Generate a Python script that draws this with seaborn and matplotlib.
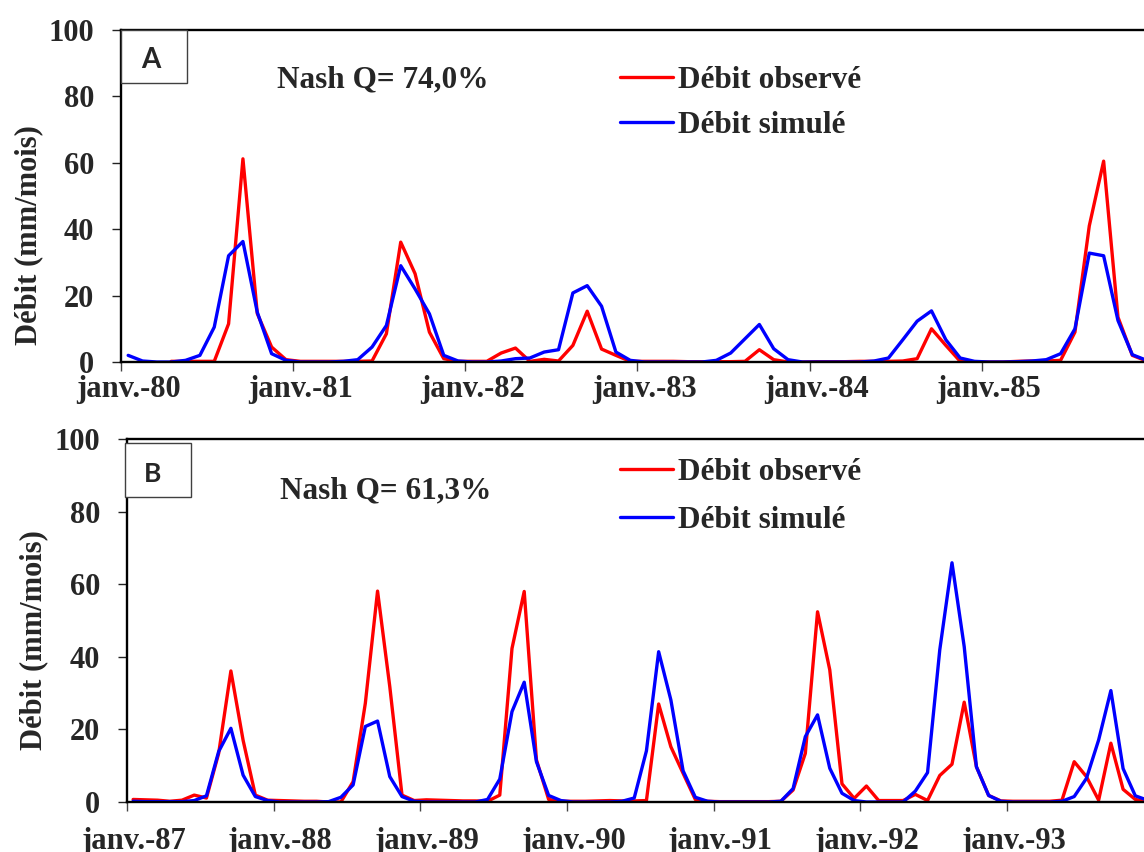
import numpy as np
import pandas as pd
import matplotlib
matplotlib.use("Agg")
import matplotlib.pyplot as plt
import matplotlib.patches as mpatches
import seaborn as sns

# ---------------- data (mm/mois, monthly) ----------------
nan = np.nan
# Panel A : janv. 1980 - déc. 1985
obs_A = [nan, nan, nan, 0.2, 0.2, 0.2, 0.2, 11.5, 61.2, 14.6, 4.5, 0.7,
         0.2, 0.2, 0.2, 0.2, 0.2, 0.3, 8.5, 36.1, 26.6, 9.0, 1.0, 0.2,
         0.2, 0.2, 2.7, 4.2, 0.2, 0.8, 0.3, 5.0, 15.3, 3.9, 2.0, 0.2,
         0.2, 0.2, 0.2, 0.1, 0.1, 0.1, 0.1, 0.2, 3.7, 0.7, 0.0, 0.0,
         0.1, 0.1, 0.1, 0.2, 0.2, 0.2, 0.3, 1.0, 10.0, 5.0, 0.2, 0.0,
         0.0, 0.0, 0.2, 0.3, 0.3, 0.5, 9.0, 41.0, 60.5, 13.5, 2.0, 0.3]
sim_A = [2.0, 0.3, 0.0, 0.0, 0.5, 2.0, 10.5, 32.0, 36.3, 15.0, 2.5, 0.5,
         0.0, 0.0, 0.0, 0.2, 0.7, 4.5, 11.0, 29.0, 22.0, 14.5, 2.0, 0.3,
         0.0, 0.0, 0.3, 1.0, 1.2, 3.0, 3.7, 20.8, 23.0, 16.8, 3.0, 0.5,
         0.0, 0.0, 0.0, 0.0, 0.0, 0.5, 2.7, 7.0, 11.3, 4.0, 0.7, 0.0,
         0.0, 0.0, 0.0, 0.0, 0.3, 1.2, 6.7, 12.3, 15.4, 6.7, 1.2, 0.2,
         0.0, 0.0, 0.1, 0.3, 0.7, 2.5, 10.0, 32.8, 32.0, 12.5, 2.2, 0.5]
# Panel B : janv. 1987 - déc. 1993
obs_B = [0.7, 0.6, 0.5, 0.2, 0.5, 1.9, 1.1, 13.4, 36.1, 17.0, 1.9, 0.5,
         0.4, 0.3, 0.2, 0.2, 0.0, 0.0, 5.6, 27.2, 58.1, 31.8, 1.9, 0.4,
         0.6, 0.5, 0.4, 0.3, 0.3, 0.2, 1.9, 42.3, 58.0, 11.6, 0.7, 0.2,
         0.2, 0.2, 0.3, 0.4, 0.3, 0.3, 0.4, 27.0, 15.2, 7.9, 0.7, 0.2,
         0.1, 0.1, 0.1, 0.1, 0.1, 0.2, 3.3, 13.4, 52.4, 36.4, 5.0, 1.0,
         4.4, 0.4, 0.4, 0.4, 2.1, 0.4, 7.3, 10.4, 27.5, 9.7, 1.8, 0.3,
         0.2, 0.2, 0.2, 0.2, 0.5, 11.1, 7.0, 0.5, 16.2, 3.5, 0.7, 0.1]
sim_B = [0.2, 0.1, 0.1, 0.1, 0.1, 0.4, 1.7, 13.9, 20.3, 7.4, 1.5, 0.4,
         0.0, 0.0, 0.0, 0.0, 0.1, 1.3, 4.7, 20.8, 22.3, 7.0, 1.5, 0.2,
         0.0, 0.0, 0.0, 0.0, 0.0, 0.7, 6.3, 24.9, 33.0, 11.1, 1.8, 0.4,
         0.0, 0.0, 0.0, 0.0, 0.2, 1.1, 14.1, 41.4, 28.1, 8.6, 1.3, 0.2,
         0.0, 0.0, 0.0, 0.0, 0.0, 0.2, 3.7, 18.0, 24.0, 9.3, 2.4, 0.4,
         0.0, 0.0, 0.0, 0.0, 3.0, 8.1, 41.9, 65.9, 42.8, 9.7, 1.8, 0.2,
         0.0, 0.0, 0.0, 0.0, 0.2, 1.5, 6.5, 17.1, 30.7, 9.2, 1.7, 0.5]

labels_A = ["janv.-80", "janv.-81", "janv.-82", "janv.-83", "janv.-84", "janv.-85"]
labels_B = ["janv.-87", "janv.-88", "janv.-89", "janv.-90", "janv.-91", "janv.-92", "janv.-93"]
series_names = ["Débit observé", "Débit simulé"]
nash_A = "Nash Q= 74,0%"
nash_B = "Nash Q= 61,3%"
y_ticks = [0, 20, 40, 60, 80, 100]

# ---------------- style ----------------
sns.set_theme(style="ticks")
SERIF = ["Liberation Serif", "DejaVu Serif"]
plt.rcParams["font.family"] = SERIF
plt.rcParams["font.weight"] = "bold"
palette = {"Débit observé": "#FF0000", "Débit simulé": "#0000FF"}

W, H = 1144, 852
fig = plt.figure(figsize=(W / 100, H / 100), dpi=100)
fig.patch.set_facecolor("white")


def long_df(obs, sim):
    n = len(obs)
    mois = np.arange(n) + 0.5
    df = pd.DataFrame({
        "mois": np.concatenate([mois, mois]),
        "débit": np.concatenate([np.array(obs, float), np.array(sim, float)]),
        "série": [series_names[0]] * n + [series_names[1]] * n,
    })
    return df.dropna()


def panel(rect_px, obs, sim, labels, nash, letter, box_px, letter_xy, letter_size,
          nash_xy, leg_xy, ylab_xy, leg_spacing, xpad):
    left, top, right, bottom = rect_px
    ax = fig.add_axes([left / W, 1 - bottom / H, (right - left) / W, (bottom - top) / H])
    df = long_df(obs, sim)
    sns.lineplot(data=df, x="mois", y="débit", hue="série", hue_order=series_names,
                 palette=palette, linewidth=2.4, estimator=None, legend=False, ax=ax)
    n = len(obs)
    ax.set_xlim(0, n)
    ax.set_ylim(0, 100)
    ax.set_xlabel("")
    ax.set_ylabel("")
    ax.set_yticks(y_ticks)
    ax.set_yticklabels([str(v) for v in y_ticks], fontsize=22, fontweight="bold")
    ax.set_xticks(np.arange(0, n + 1, 12))
    ax.set_xticklabels([""] * len(np.arange(0, n + 1, 12)))
    ax.set_xticks(np.arange(0, n, 12) + 0.5, minor=True)
    ax.set_xticklabels(labels, minor=True, fontsize=22, fontweight="bold")
    ax.tick_params(axis="x", which="major", direction="out", length=6.5, width=1.0,
                   color="#444444")
    ax.tick_params(axis="x", which="minor", length=0, pad=xpad)
    ax.tick_params(axis="y", direction="out", length=6.5, width=1.0, color="#222222", pad=13)
    for s in ["left", "top", "bottom"]:
        ax.spines[s].set_color("black")
        ax.spines[s].set_linewidth(1.7)
    ax.spines["right"].set_visible(False)
    ax.grid(False)

    # legend
    lines = ax.get_lines()[:2]
    ax.legend(lines, series_names, loc="upper left",
              bbox_to_anchor=(leg_xy[0] / W, 1 - leg_xy[1] / H),
              bbox_transform=fig.transFigure, frameon=False, borderpad=0,
              borderaxespad=0, handlelength=1.7, handletextpad=0.16,
              labelspacing=leg_spacing,
              prop={"family": SERIF, "weight": "bold", "size": 22.5})

    fig.text(nash_xy[0] / W, 1 - nash_xy[1] / H, nash, ha="left", va="center",
             fontsize=22.5, fontweight="bold", family=SERIF)
    fig.text(ylab_xy[0] / W, 1 - ylab_xy[1] / H, "Débit (mm/mois)", rotation=90,
             ha="center", va="center", fontsize=22, fontweight="bold", family=SERIF)

    bx0, by0, bx1, by1 = box_px
    rect = mpatches.Rectangle((bx0 / W, 1 - by1 / H), (bx1 - bx0) / W, (by1 - by0) / H,
                              transform=fig.transFigure, facecolor="white",
                              edgecolor="#404040", linewidth=1.0, zorder=5)
    fig.add_artist(rect)
    fig.text(letter_xy[0] / W, 1 - letter_xy[1] / H, letter, ha="center", va="center",
             fontsize=letter_size, fontweight="bold", family=["Lato", "DejaVu Sans"],
             zorder=6)
    return ax


panel((121, 30, 121 + 72 * 14.345, 362), obs_A, sim_A, labels_A, nash_A, "A",
      (121, 30, 187, 83), (151, 60), 20, (277, 80), (620, 66), (28.5, 235), 0.52, 9)
panel((127, 439, 127 + 84 * 12.222, 802), obs_B, sim_B, labels_B, nash_B, "B",
      (125, 443, 191, 497), (153, 474), 19, (280, 491), (620, 458), (34, 640), 0.62, 18)

fig.savefig("out.png", dpi=100, facecolor="white")
